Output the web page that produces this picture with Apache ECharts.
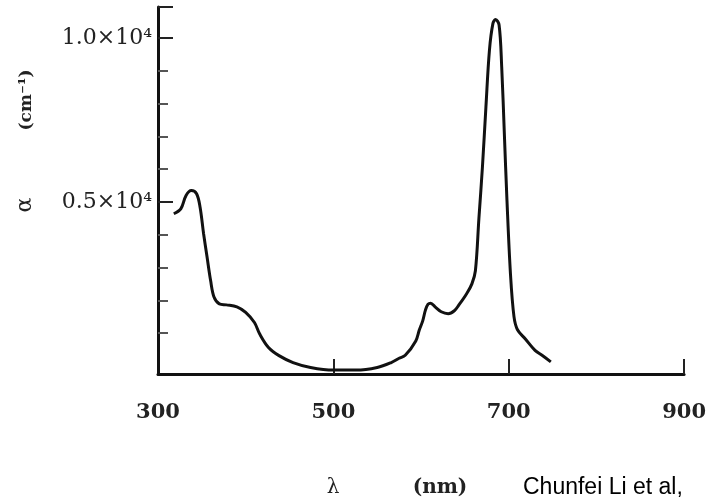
<!DOCTYPE html>
<html>
<head>
<meta charset="utf-8">
<script src="https://cdn.jsdelivr.net/npm/echarts@6/dist/echarts.min.js"></script>
<style>
  html, body { margin: 0; padding: 0; background: #fff; }
  #chart { width: 709px; height: 499px; }
</style>
</head>
<body>
<div id="chart"></div>
<script>
// absorption spectrum (lambda in nm, alpha in cm^-1)
const wavelength = [318, 326, 332, 338, 344, 348, 352, 356, 360, 364, 370, 378, 390, 400, 410, 416, 426, 438, 454, 474,
  500, 526, 550, 566, 575, 582, 594, 598, 602, 605, 608, 611, 616, 623, 631, 638, 643, 652, 658, 662,
  666, 670, 674, 678, 682, 685, 689, 692, 695, 698, 702, 706, 710, 719, 730, 738, 748]
const alpha = [4640, 4790, 5200, 5350, 5250, 4840, 4030, 3310, 2600, 2090, 1890, 1860, 1800, 1630, 1320, 970, 560, 310, 100, -50,
  -130, -130, -50, 100, 230, 320, 760, 1090, 1380, 1700, 1880, 1910, 1800, 1650, 1590, 1680, 1850, 2200, 2500, 2900,
  4500, 6060, 7900, 9630, 10450, 10570, 10400, 9120, 7090, 5050, 2800, 1500, 1100, 820, 470, 320, 120]

const xLabelValues = [300, 500, 700, 900]
const xTickValues = [500, 700, 900]
const yLabelValues = [5000, 10000]
const yLabelText = { 5000: '0.5×10⁴', 10000: '1.0×10⁴' }
const yMinorTicks = [1000, 2000, 3000, 4000, 6000, 7000, 8000, 9000]
const yMajorTicks = [5000, 10000, 10950]

const chart = echarts.init(document.getElementById('chart'))

const serif = 'DejaVu Serif'

const option = {
  backgroundColor: '#fff',
  animation: false,
  grid: { left: 158, right: 21, top: 7, bottom: 125 },
  xAxis: {
    type: 'value',
    min: 300,
    max: 900,
    axisLine: { onZero: false, lineStyle: { color: '#111', width: 3 } },
    axisTick: {
      inside: true,
      length: 15,
      customValues: xTickValues,
      lineStyle: { color: '#222', width: 2 }
    },
    axisLabel: {
      customValues: xLabelValues,
      margin: 28,
      color: '#222',
      fontFamily: serif,
      fontWeight: 'bold',
      fontSize: 21
    },
    splitLine: { show: false }
  },
  yAxis: [
    {
      type: 'value',
      min: -250,
      max: 10950,
      axisLine: { show: true, onZero: false, lineStyle: { color: '#111', width: 3 } },
      axisTick: {
        inside: true,
        length: 10,
        customValues: yMinorTicks,
        lineStyle: { color: '#555', width: 2 }
      },
      axisLabel: {
        customValues: yLabelValues,
        margin: 6,
        color: '#222',
        fontFamily: serif,
        fontSize: 22,
        formatter: v => yLabelText[v] || ''
      },
      splitLine: { show: false }
    },
    {
      type: 'value',
      min: -250,
      max: 10950,
      position: 'left',
      axisLine: { show: false, onZero: false },
      axisTick: {
        inside: true,
        length: 15,
        customValues: yMajorTicks,
        lineStyle: { color: '#222', width: 2 }
      },
      axisLabel: { show: false },
      splitLine: { show: false }
    }
  ],
  graphic: [
    {
      type: 'text', x: 25, y: 205, rotation: Math.PI / 2,
      style: { text: 'α', fontFamily: serif, fontSize: 22, fill: '#222', align: 'center', verticalAlign: 'middle' }
    },
    {
      type: 'text', x: 27, y: 100, rotation: Math.PI / 2,
      style: { text: '(cm⁻¹)', fontFamily: serif, fontWeight: 'bold', fontSize: 17, fill: '#222', align: 'center', verticalAlign: 'middle' }
    },
    {
      type: 'text', x: 333, y: 488,
      style: { text: 'λ', fontFamily: serif, fontSize: 20, fill: '#222', align: 'center', verticalAlign: 'middle' }
    },
    {
      type: 'text', x: 440, y: 488,
      style: { text: '(nm)', fontFamily: serif, fontWeight: 'bold', fontSize: 20, fill: '#222', align: 'center', verticalAlign: 'middle' }
    },
    {
      type: 'text', x: 523, y: 488,
      style: { text: 'Chunfei Li et al,', fontFamily: 'Liberation Sans', fontSize: 23, fill: '#000', align: 'left', verticalAlign: 'middle' }
    }
  ],
  series: [
    {
      type: 'line',
      data: wavelength.map((w, i) => [w, alpha[i]]),
      smooth: 0.35,
      showSymbol: false,
      lineStyle: { color: '#111', width: 3 }
    }
  ]
}

chart.setOption(option)
</script>
</body>
</html>
